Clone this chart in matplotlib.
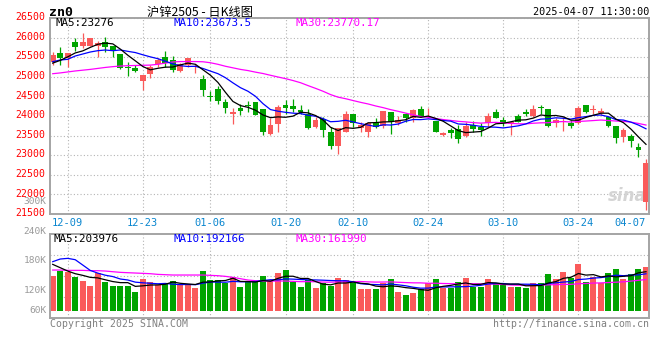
import numpy as np
import pandas as pd
import matplotlib
matplotlib.use('Agg')
import matplotlib.pyplot as plt
from matplotlib.transforms import ScaledTranslation

# ---------------- data ----------------
open_ = [25370, 25600, 25472, 25898, 25787, 25787, 25787, 25881, 25787, 25574,
         25259, 25233, 24901, 25063, 25319, 25514, 25429, 25148, 25301, 25242,
         24944, 24509, 24688, 24347, 24049, 24211, 24279, 24348, 24177, 23538,
         23794, 24279, 24262, 24152, 24049, 23726, 23913, 23598, 23240, 23598,
         24041, 23700, 23598, 23828, 23751, 24092, 23811, 24041, 23956, 24177,
         23964, 23879, 23513, 23641, 23658, 23496, 23768, 23726, 23811, 24092,
         23896, 23794, 23998, 24109, 23998, 24220, 24177, 23811, 23853, 23811,
         23811, 24279, 24152, 24066, 23981, 23743, 23453, 23496, 23198, 21810]
close = [25557, 25472, 25617, 25770, 25898, 26000, 25872, 25770, 25668, 25233,
         25216, 25157, 25046, 25242, 25429, 25361, 25174, 25319, 25472, 25276,
         24663, 24484, 24390, 24211, 24109, 24135, 24262, 24024, 23598, 23768,
         24237, 24211, 24169, 24101, 23683, 23896, 23641, 23232, 23700, 24041,
         23811, 23768, 23811, 23726, 24126, 23836, 23896, 23939, 24152, 24007,
         23998, 23598, 23572, 23556, 23411, 23743, 23666, 23641, 24000, 23956,
         23811, 23853, 23853, 24041, 24177, 24203, 23751, 23896, 23870, 23751,
         24194, 24109, 24177, 24126, 23751, 23445, 23641, 23360, 23130, 22804]
high = [25625, 25770, 25617, 26000, 26111, 26000, 25915, 26025, 25787, 25574,
        25387, 25301, 25046, 25301, 25489, 25668, 25540, 25344, 25489, 25319,
        25046, 24637, 24765, 24433, 24211, 24296, 24382, 24348, 24177, 23939,
        24279, 24407, 24433, 24279, 24177, 23981, 23981, 23726, 23700, 24126,
        24041, 23836, 23853, 23939, 24126, 24092, 24007, 24066, 24169, 24262,
        24194, 23879, 23598, 23683, 23768, 23836, 23870, 23811, 24066, 24177,
        23981, 23853, 24041, 24169, 24279, 24279, 24177, 23939, 23981, 23896,
        24262, 24279, 24279, 24194, 23981, 23743, 23683, 23530, 23317, 22900]
low = [25301, 25301, 25259, 25668, 25728, 25787, 25514, 25642, 25514, 25199,
       25020, 25114, 24663, 24961, 25259, 25259, 25131, 25114, 25259, 25088,
       24509, 24381, 24296, 24083, 23794, 24024, 24092, 24024, 23513, 23513,
       23598, 24041, 24109, 24041, 23658, 23683, 23470, 23155, 23019, 23598,
       23726, 23581, 23470, 23700, 23683, 23538, 23768, 23853, 23853, 23981,
       23939, 23581, 23496, 23427, 23300, 23470, 23598, 23496, 23726, 23939,
       23751, 23513, 23836, 23998, 23981, 24041, 23726, 23726, 23615, 23700,
       23794, 24066, 24041, 24024, 23726, 23317, 23343, 23215, 22959, 21597]
volume = [180800, 208600, 199900, 175500, 156400, 128600, 194700, 151200, 128600, 128600,
          128600, 97300, 165100, 149500, 132100, 146000, 154700, 132100, 132100, 118200,
          206800, 159900, 159900, 142500, 177300, 123400, 156400, 147700, 180800, 159900,
          198100, 212000, 147700, 123400, 159900, 118200, 142500, 130400, 170300, 159900,
          142500, 113000, 113000, 113000, 142500, 165100, 99100, 81700, 93900, 111200,
          146000, 165100, 119900, 118200, 149500, 170300, 125100, 125100, 163400, 140800,
          140800, 125100, 125100, 116400, 144300, 144300, 191200, 163400, 201600, 170300,
          243300, 149500, 175500, 142500, 196400, 217300, 165100, 191200, 217300, 225900]

# moving-average values at the start of the window (history before the first bar)
ma5_head = [25350, 25420, 25510, 25610]
ma10_head = [25387, 25430, 25447, 25532, 25583, 25634, 25668, 25685, 25668]
ma30_head = [25080, 25100, 25125, 25150, 25170, 25190, 25215, 25240, 25260, 25275,
             25285, 25290, 25295, 25300, 25320, 25350, 25380, 25390, 25390, 25390,
             25385, 25360, 25320, 25270, 25230, 25190, 25160, 25120, 25085]
vma5_head = [241600, 224200, 206800, 192900]
vma10_head = [255500, 269400, 272900, 265900, 238100, 210000, 196000, 185000, 178000]
vma30_head = [212000, 212000, 210300, 210300, 210300, 208600, 208600, 206800, 203300, 199900,
              198100, 196400, 194700, 192900, 189400, 187700, 186000, 186000, 186000, 186000,
              186000, 184200, 182500, 179000, 173800, 166800, 159900, 156400, 154700]

tick_idx = [2, 12, 21, 31, 40, 50, 60, 70, 79]
tick_lab = ['12-09', '12-23', '01-06', '01-20', '02-10', '02-24', '03-10', '03-24', '04-07']
price_ticks = [21500, 22000, 22500, 23000, 23500, 24000, 24500, 25000, 25500, 26000, 26500]
vol_labels = ['300K', '240K', '180K', '120K', '60K']
ma_price_text = ['MA5:23276', 'MA10:23673.5', 'MA30:23770.17']
ma_vol_text = ['MA5:203976', 'MA10:192166', 'MA30:161990']
symbol = 'zn0'
title = '沪锌2505 - 日K线图'
stamp = '2025-04-07 11:30:00'

# ---------------- style ----------------
plt.rcParams['font.family'] = ['DejaVu Sans Mono']
RED = '#fa5a5a'
GREEN = '#00a400'
GRID = '#b4b4b4'
BORDER = '#a4a4a4'
MA_COLORS = ['#000000', '#0000ff', '#ff00ff']

W, H = 660, 360
fig = plt.figure(figsize=(6.6, 3.6), dpi=100)
fig.patch.set_facecolor('white')


def fx(px):
    return px / W


def fy(py):
    return 1 - py / H


L, R = 50, 649.3
ax = fig.add_axes([fx(L), fy(213.9), fx(R) - fx(L), fy(18.1) - fy(213.9)])
axv = fig.add_axes([fx(L), fy(318.3), fx(R) - fx(L), fy(234.3) - fy(318.3)])

o = np.array(open_, float)
c = np.array(close, float)
hi = np.array(high, float)
lo = np.array(low, float)
v = np.array(volume, float)
n = len(c)
x = np.arange(n)
up = c >= o
cols = np.where(up, RED, GREEN)

# ---------- price panel ----------
ax.vlines(x, lo, hi, colors=cols, lw=0.9, zorder=2)
body_h = np.maximum(np.abs(c - o), 18)
ax.bar(x, body_h, bottom=np.minimum(o, c), width=0.78, color=cols, linewidth=0, zorder=2.5)

cs = pd.Series(c)
ma5 = cs.rolling(5).mean().to_numpy(); ma5[:len(ma5_head)] = ma5_head
ma10 = cs.rolling(10).mean().to_numpy(); ma10[:len(ma10_head)] = ma10_head
ma30 = cs.rolling(30).mean().to_numpy(); ma30[:len(ma30_head)] = ma30_head
for m, col in zip([ma30, ma10, ma5], MA_COLORS[::-1]):
    ax.plot(x, m, color=col, lw=0.9, zorder=3)

ax.set_xlim(-0.36, 79.44)
ax.set_ylim(21500, 26500)
ax.set_yticks(price_ticks)
ax.set_yticklabels([str(t) for t in price_ticks])
ax.tick_params(axis='y', length=0, pad=3.2, labelsize=7.1, labelcolor='#ff0000')
shift_up = ScaledTranslation(0, 1.8 / 100, fig.dpi_scale_trans)
for lab in ax.get_yticklabels():
    lab.set_transform(lab.get_transform() + shift_up)
ax.grid(axis='y', ls=(0, (1, 2)), color=GRID, lw=0.8)
ax.set_xticks(tick_idx)
ax.set_xticklabels(tick_lab)
ax.tick_params(axis='x', length=0, pad=3.0, labelsize=7.5, labelcolor='#0a86cf')
ax.get_xticklabels()[-1].set_ha('right')
for t in tick_idx[:-1]:
    ax.axvline(t, ls=(0, (1, 2)), color=GRID, lw=0.8, zorder=0.5)
ax.set_axisbelow(True)

# sina watermark
ax.text(0.995, 0.09, 'sina', transform=ax.transAxes, ha='right', va='center',
        fontsize=12, fontstyle='italic', fontweight='bold', color='#d4d4d4',
        family='DejaVu Sans', zorder=1)

# ---------- volume panel ----------
axv.bar(x, v, width=0.8, color=cols, linewidth=0, zorder=2)
vs = pd.Series(v)
vma5 = vs.rolling(5).mean().to_numpy(); vma5[:len(vma5_head)] = vma5_head
vma10 = vs.rolling(10).mean().to_numpy(); vma10[:len(vma10_head)] = vma10_head
vma30 = vs.rolling(30).mean().to_numpy(); vma30[:len(vma30_head)] = vma30_head
for m, col in zip([vma30, vma10, vma5], MA_COLORS[::-1]):
    axv.plot(x, m, color=col, lw=0.9, zorder=3)
axv.set_xlim(-0.36, 79.44)
vlo, vhi = -39600, 398300
axv.set_ylim(vlo, vhi)
axv.set_yticks([vlo + f * (vhi - vlo) for f in (0.25, 0.5, 0.75)])
axv.set_yticklabels([])
axv.set_xticks([])
axv.tick_params(length=0)
axv.grid(axis='y', ls=(0, (1, 2)), color=GRID, lw=0.8)
for t in tick_idx[:-1]:
    axv.axvline(t, ls=(0, (1, 2)), color=GRID, lw=0.8, zorder=0.5)
axv.set_axisbelow(True)

for a in (ax, axv):
    for s in a.spines.values():
        s.set_color(BORDER)
        s.set_linewidth(1.4)

# volume axis labels (left margin)
for lab, py in zip(vol_labels, [201.0, 231.0, 260.5, 290.7, 310.6]):
    fig.text(fx(46.8), fy(py), lab, ha='right', va='center', fontsize=6.8, color='#9a9a9a')

# MA legends
for txt, col, px in zip(ma_price_text, MA_COLORS, [55, 174, 295]):
    fig.text(fx(px), fy(23.5), txt, ha='left', va='center', fontsize=7.8, color=col)
for txt, col, px in zip(ma_vol_text, MA_COLORS, [54, 174, 295]):
    fig.text(fx(px), fy(239.0), txt, ha='left', va='center', fontsize=7.8, color=col)

# header
fig.text(fx(49), fy(12), symbol, ha='left', va='center', fontsize=9.5, fontweight='bold', color='black')
fig.text(fx(200), fy(12), title, ha='center', va='center', fontsize=8.8, color='black',
         family=['Noto Sans CJK SC', 'DejaVu Sans'])
fig.text(fx(649), fy(12), stamp, ha='right', va='center', fontsize=7.3, color='black')

# footer
fig.text(fx(50), fy(323.6), 'Copyright 2025 SINA.COM', ha='left', va='center', fontsize=7.1, color='#808080')
fig.text(fx(649), fy(323.6), 'http://finance.sina.com.cn', ha='right', va='center', fontsize=7.1, color='#808080')

fig.savefig('out.png', dpi=100, facecolor='white')
